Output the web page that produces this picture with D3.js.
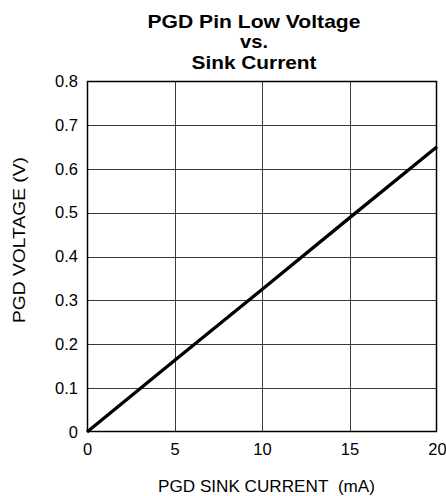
<!DOCTYPE html>
<html><head><meta charset="utf-8">
<script src="https://cdn.jsdelivr.net/npm/d3@7"></script>
<style>body{margin:0;background:#fff}svg{display:block}text{font-family:"Liberation Sans",Arial,sans-serif;fill:#000}</style>
</head><body><svg id="c" width="446" height="496"></svg>
<script>
const titleLines = ["PGD Pin Low Voltage", "vs.", "Sink Current"];
const titleWidths = [213, 28, 125];
const sinkCurrent = [0, 5, 10, 15, 20];
const pgdVoltage = [0, 0.163, 0.325, 0.488, 0.65];
const xTicks = [0, 5, 10, 15, 20];
const yTicks = [0, 0.1, 0.2, 0.3, 0.4, 0.5, 0.6, 0.7, 0.8];
const xLabel = "PGD SINK CURRENT\u00a0\u00a0(mA)";
const yLabel = "PGD VOLTAGE (V)";

const svg = d3.select("#c");
const m = {l:87, r:437, t:81, b:432};
const x = d3.scaleLinear().domain([0,20]).range([m.l, m.r]);
const y = d3.scaleLinear().domain([0,0.8]).range([m.b, m.t]);
const fs = 16.5;

svg.append("g").selectAll("text").data(titleLines).join("text")
  .attr("text-anchor","middle").attr("font-size", 18.5).attr("font-weight","bold")
  .attr("x", 254).attr("y", (d,i)=>27.5+i*20.8)
  .attr("textLength",(d,i)=>titleWidths[i]).attr("lengthAdjust","spacingAndGlyphs").text(d=>d);

// grid
svg.append("g").selectAll("line").data(xTicks.slice(1,-1)).join("line")
  .attr("x1", d=>Math.round(x(d))+0.5).attr("x2", d=>Math.round(x(d))+0.5)
  .attr("y1", m.t).attr("y2", m.b).attr("stroke","#3a3a3a").attr("stroke-width",1);
svg.append("g").selectAll("line").data(yTicks.slice(1,-1)).join("line")
  .attr("y1", d=>Math.round(y(d))+0.5).attr("y2", d=>Math.round(y(d))+0.5)
  .attr("x1", m.l).attr("x2", m.r).attr("stroke","#3a3a3a").attr("stroke-width",1);

const xAxis = d3.axisBottom(x).tickValues(xTicks).tickSize(0).tickPadding(11).tickFormat(d3.format("d"));
const yAxis = d3.axisLeft(y).tickValues(yTicks).tickSize(0).tickPadding(9).tickFormat(d=>d===0?"0":d3.format(".1f")(d));
const gx = svg.append("g").attr("transform",`translate(0,${m.b})`).call(xAxis);
const gy = svg.append("g").attr("transform",`translate(${m.l},0)`).call(yAxis);
[gx,gy].forEach(g=>{g.select(".domain").remove();g.selectAll("text").attr("font-size",fs).attr("font-family","Liberation Sans, Arial, sans-serif").attr("fill","#000");});

svg.append("rect").attr("x",m.l+0.5).attr("y",m.t+0.5).attr("width",m.r-m.l-1).attr("height",m.b-m.t-1)
  .attr("fill","none").attr("stroke","#000").attr("stroke-width",1.5);

const line = d3.line().x((d,i)=>x(sinkCurrent[i])).y(d=>y(d));
svg.append("path").datum(pgdVoltage).attr("d",line).attr("fill","none").attr("stroke","#000").attr("stroke-width",3.3);

svg.append("text").attr("x",158).attr("y",492).attr("font-size",fs)
  .attr("textLength",217).attr("lengthAdjust","spacingAndGlyphs").text(xLabel);
svg.append("text").attr("transform",`translate(25,323) rotate(-90)`).attr("font-size",fs)
  .attr("textLength",166).attr("lengthAdjust","spacingAndGlyphs").text(yLabel);
</script></body></html>
